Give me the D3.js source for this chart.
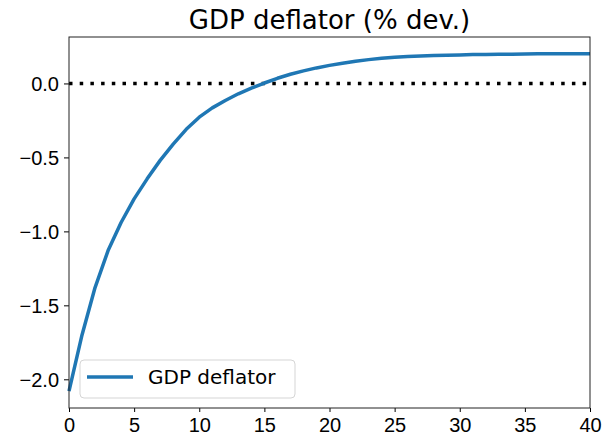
<!DOCTYPE html>
<html>
<head>
<meta charset="utf-8">
<script src="https://cdn.jsdelivr.net/npm/d3@7"></script>
<style>
  body { margin: 0; background: #fff; }
  svg { display: block; font-family: "DejaVu Sans", sans-serif; }
  .tick text { font-size: 20px; fill: #000; }
  .tick line { stroke: #000; }
  .title { font-size: 26px; fill: #000; }
  .legend-label { font-size: 20px; fill: #000; }
</style>
</head>
<body>
<svg width="606" height="438"></svg>
<script>
const svg = d3.select('svg');

const width = +svg.attr('width');
const height = +svg.attr('height');

// horizon (quarters) and deviation values
const periods = d3.range(0, 41);
const deflator = [
  -2.08, -1.70, -1.38, -1.13, -0.94, -0.78, -0.645, -0.52, -0.41, -0.31,
  -0.228, -0.165, -0.115, -0.07, -0.032, 0.003, 0.035, 0.062, 0.085, 0.105,
  0.122, 0.137, 0.15, 0.161, 0.17, 0.177, 0.182, 0.186, 0.189, 0.191,
  0.193, 0.195, 0.196, 0.197, 0.198, 0.199, 0.2, 0.2, 0.2, 0.2, 0.2
];
const xTicks = [0, 5, 10, 15, 20, 25, 30, 35, 40];
const yTicks = [-2.0, -1.5, -1.0, -0.5, 0.0];
const title = 'GDP deflator (% dev.)';
const seriesName = 'GDP deflator';

const data = periods.map((t, i) => ({ t, v: deflator[i] }));

const margin = { top: 37, right: 16, bottom: 30, left: 69 };
const innerWidth = width - margin.left - margin.right;
const innerHeight = height - margin.top - margin.bottom;

const xScale = d3.scaleLinear().domain([0, 40]).range([0, innerWidth]);

// matplotlib style 5% padding around data range
const yMin = d3.min(deflator), yMax = d3.max(deflator);
const pad = (yMax - yMin) * 0.05;
const yScale = d3.scaleLinear().domain([yMin - pad, yMax + pad]).range([innerHeight, 0]);

const g = svg.append('g').attr('transform', `translate(${margin.left},${margin.top})`);

// zero line
g.append('line')
  .attr('x1', xScale(0))
  .attr('x2', xScale(40))
  .attr('y1', yScale(0))
  .attr('y2', yScale(0))
  .attr('stroke', '#000')
  .attr('stroke-width', 3.5)
  .attr('stroke-dasharray', '3.5,7.2');

const lineGenerator = d3.line()
  .x(d => xScale(d.t))
  .y(d => yScale(d.v));

g.append('path')
  .datum(data)
  .attr('fill', 'none')
  .attr('stroke', '#1f77b4')
  .attr('stroke-width', 3.5)
  .attr('stroke-linejoin', 'round')
  .attr('d', lineGenerator);

// axes
const xAxis = d3.axisBottom(xScale).tickValues(xTicks).tickSize(4).tickPadding(4).tickFormat(d3.format('d'));
const yAxis = d3.axisLeft(yScale).tickValues(yTicks).tickSize(5).tickPadding(5).tickFormat(d3.format('.1f'));

const xAxisG = g.append('g').attr('transform', `translate(0,${innerHeight})`).call(xAxis);
xAxisG.select('.domain').remove();
xAxisG.selectAll('.tick text').attr('dy', '0.78em');

const yAxisG = g.append('g').call(yAxis);
yAxisG.select('.domain').remove();
yAxisG.selectAll('.tick text').attr('dy', '0.36em');

// frame
g.append('rect')
  .attr('x', 0)
  .attr('y', 0)
  .attr('width', innerWidth)
  .attr('height', innerHeight)
  .attr('fill', 'none')
  .attr('stroke', '#222')
  .attr('stroke-width', 1);

// title
g.append('text')
  .attr('class', 'title')
  .attr('x', innerWidth / 2)
  .attr('y', -8)
  .attr('text-anchor', 'middle')
  .text(title);

// legend
const legend = g.append('g').attr('transform', `translate(${11},${innerHeight - 48})`);
legend.append('rect')
  .attr('width', 215)
  .attr('height', 38)
  .attr('rx', 4)
  .attr('fill', 'rgba(255,255,255,0.8)')
  .attr('stroke', '#d5d5d5')
  .attr('stroke-width', 1);
legend.append('line')
  .attr('x1', 7)
  .attr('x2', 53)
  .attr('y1', 17)
  .attr('y2', 17)
  .attr('stroke', '#1f77b4')
  .attr('stroke-width', 3.5);
legend.append('text')
  .attr('class', 'legend-label')
  .attr('x', 68)
  .attr('y', 17)
  .attr('dy', '0.36em')
  .text(seriesName);
</script>
</body>
</html>
